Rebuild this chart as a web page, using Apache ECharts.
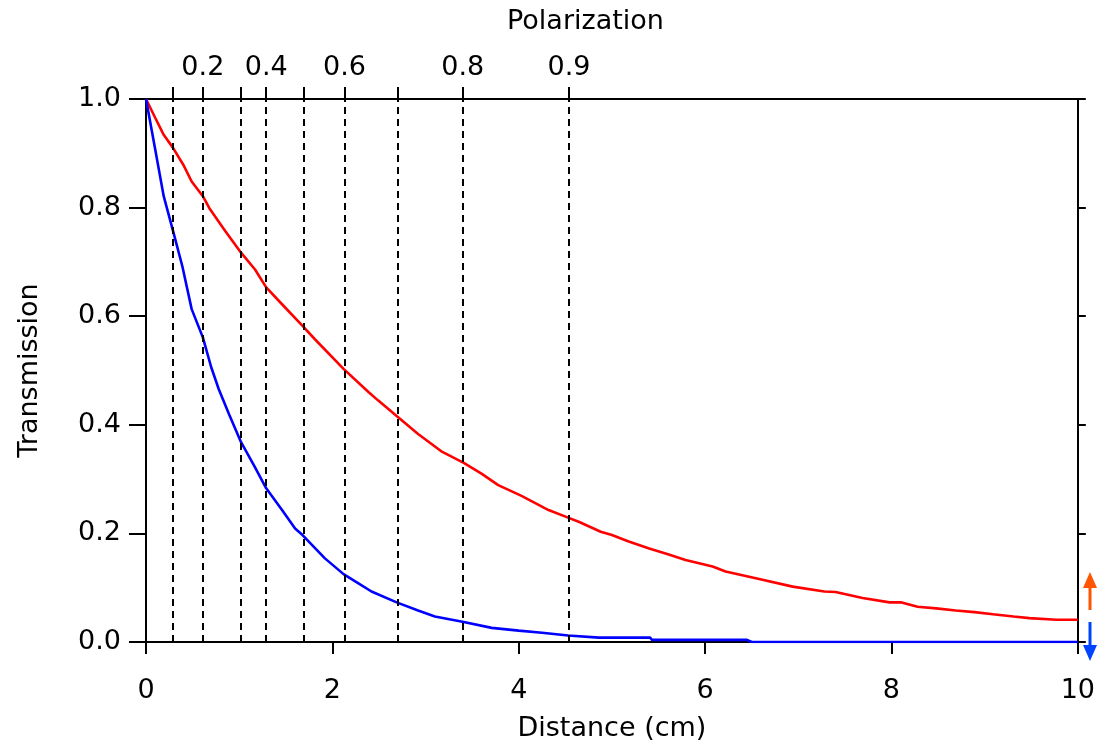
<!DOCTYPE html>
<html>
<head>
<meta charset="utf-8">
<script src="https://cdn.jsdelivr.net/npm/echarts@6/dist/echarts.min.js"></script>
<style>html,body{margin:0;padding:0;background:#fff;}#chart{width:1098px;height:747px;}</style>
</head>
<body>
<div id="chart"></div>
<script>
// Red curve (higher transmission)
const redDistance = [0, 0.10, 0.19, 0.29, 0.40, 0.49, 0.61, 0.68, 0.85, 1.02, 1.17, 1.29, 1.46, 1.68, 1.81, 2.12, 2.39, 2.49, 2.69, 2.92, 3.18, 3.41, 3.60, 3.78, 4.03, 4.32, 4.53, 4.65, 4.88, 5.00, 5.18, 5.40, 5.61, 5.79, 6.08, 6.22, 6.58, 6.94, 7.28, 7.40, 7.69, 7.98, 8.10, 8.28, 8.48, 8.69, 8.89, 9.09, 9.31, 9.48, 9.77, 10.0];
const redTrans    = [1.0, 0.965, 0.934, 0.910, 0.879, 0.848, 0.821, 0.799, 0.757, 0.717, 0.686, 0.653, 0.622, 0.582, 0.558, 0.503, 0.460, 0.445, 0.416, 0.383, 0.350, 0.330, 0.310, 0.289, 0.269, 0.243, 0.229, 0.221, 0.203, 0.197, 0.185, 0.172, 0.161, 0.151, 0.139, 0.130, 0.116, 0.102, 0.093, 0.092, 0.081, 0.073, 0.073, 0.065, 0.062, 0.058, 0.055, 0.051, 0.047, 0.044, 0.041, 0.041];
// Blue curve (lower transmission)
const blueDistance = [0, 0.10, 0.19, 0.29, 0.39, 0.49, 0.61, 0.70, 0.78, 0.89, 1.02, 1.16, 1.29, 1.46, 1.60, 1.68, 1.92, 2.12, 2.28, 2.42, 2.69, 2.92, 3.10, 3.41, 3.71, 4.00, 4.25, 4.53, 4.86, 4.88, 5.41, 5.43, 6.45, 6.50, 8.0, 10.0];
const blueTrans    = [1.0, 0.906, 0.821, 0.757, 0.692, 0.613, 0.561, 0.506, 0.466, 0.420, 0.368, 0.325, 0.283, 0.243, 0.209, 0.197, 0.154, 0.125, 0.108, 0.093, 0.073, 0.058, 0.047, 0.037, 0.026, 0.021, 0.017, 0.012, 0.008, 0.008, 0.008, 0.004, 0.004, 0.0, 0.0, 0.0];
// Polarization markers (top axis): distance where each polarization is reached
const polDistance = [0.29, 0.61, 1.02, 1.29, 1.69, 2.13, 2.70, 3.40, 4.54];
const polLabels   = ['', '0.2', '', '0.4', '', '0.6', '', '0.8', '0.9'];
const xTicks = [0, 2, 4, 6, 8, 10];
const yTicks = [0.0, 0.2, 0.4, 0.6, 0.8, 1.0];

const FONT = 'DejaVu Sans';
const FS = 27;
const chart = echarts.init(document.getElementById('chart'));
const zip = (a, b) => a.map((v, i) => [v, b[i]]);
const labeledPol = polDistance.filter((d, i) => polLabels[i] !== '');

chart.setOption({
  animation: false,
  backgroundColor: '#ffffff',
  grid: { left: 146, right: 20, top: 99, bottom: 103 },
  xAxis: [
    {
      type: 'value', position: 'bottom', min: xTicks[0], max: xTicks[xTicks.length - 1], interval: 2,
      name: 'Distance (cm)', nameLocation: 'middle', nameGap: 73,
      nameTextStyle: { fontFamily: FONT, fontSize: FS, color: '#000' },
      axisLine: { show: true, onZero: false, lineStyle: { color: '#000', width: 2 } },
      axisTick: { show: true, inside: false, length: 12, lineStyle: { color: '#000', width: 2 } },
      axisLabel: { fontFamily: FONT, fontSize: FS, color: '#000', margin: 35 },
      splitLine: { show: false }
    },
    {
      type: 'value', position: 'top', min: 0, max: 10,
      axisLine: { show: true, onZero: false, lineStyle: { color: '#000', width: 2 } },
      axisTick: { show: true, inside: false, length: 12, customValues: polDistance, lineStyle: { color: '#000', width: 2 } },
      axisLabel: {
        show: true, customValues: labeledPol, fontFamily: FONT, fontSize: FS, color: '#000', margin: 18,
        formatter: v => { const i = polDistance.indexOf(v); return i >= 0 ? polLabels[i] : ''; }
      },
      splitLine: { show: false }
    }
  ],
  yAxis: [
    {
      type: 'value', position: 'left', min: yTicks[0], max: yTicks[yTicks.length - 1], interval: 0.2,
      name: 'Transmission', nameLocation: 'middle', nameGap: 103, nameRotate: 90,
      nameTextStyle: { fontFamily: FONT, fontSize: FS, color: '#000' },
      axisLine: { show: true, onZero: false, lineStyle: { color: '#000', width: 2 } },
      axisTick: { show: true, inside: false, length: 17, lineStyle: { color: '#000', width: 2 } },
      axisLabel: { fontFamily: FONT, fontSize: FS, color: '#000', margin: 25, formatter: v => v.toFixed(1) },
      splitLine: { show: false }
    },
    {
      type: 'value', position: 'right', min: 0, max: 1, interval: 0.2,
      axisLine: { show: true, onZero: false, lineStyle: { color: '#000', width: 2 } },
      axisTick: { show: true, inside: false, length: 8, lineStyle: { color: '#000', width: 2 } },
      axisLabel: { show: false },
      splitLine: { show: false }
    }
  ],
  series: [
    {
      type: 'line', name: 'pol', xAxisIndex: 0, yAxisIndex: 0, data: [], silent: true,
      markLine: {
        silent: true, symbol: 'none', label: { show: false },
        lineStyle: { color: '#000', type: [7, 5], width: 2 },
        data: polDistance.map(d => ({ xAxis: d }))
      }
    },
    {
      type: 'line', name: 'red', data: zip(redDistance, redTrans), showSymbol: false,
      lineStyle: { color: '#ff0000', width: 2.6 }, itemStyle: { color: '#ff0000' }, z: 3
    },
    {
      type: 'line', name: 'blue', data: zip(blueDistance, blueTrans), showSymbol: false,
      lineStyle: { color: '#0000ff', width: 2.6 }, itemStyle: { color: '#0000ff' }, z: 3
    }
  ],
  graphic: [
    { type: 'text', left: 507, top: 8, style: { text: 'Polarization', fontFamily: FONT, fontSize: FS, fill: '#000' } },
    { type: 'line', shape: { x1: 1090, y1: 610, x2: 1090, y2: 585 }, style: { stroke: '#ff5500', lineWidth: 3 } },
    { type: 'polygon', shape: { points: [[1090, 572], [1083, 588], [1097, 588]] }, style: { fill: '#ff5500' } },
    { type: 'line', shape: { x1: 1090, y1: 622, x2: 1090, y2: 646 }, style: { stroke: '#0044ff', lineWidth: 3 } },
    { type: 'polygon', shape: { points: [[1090, 661], [1083, 645], [1097, 645]] }, style: { fill: '#0044ff' } }
  ]
});
</script>
</body>
</html>
